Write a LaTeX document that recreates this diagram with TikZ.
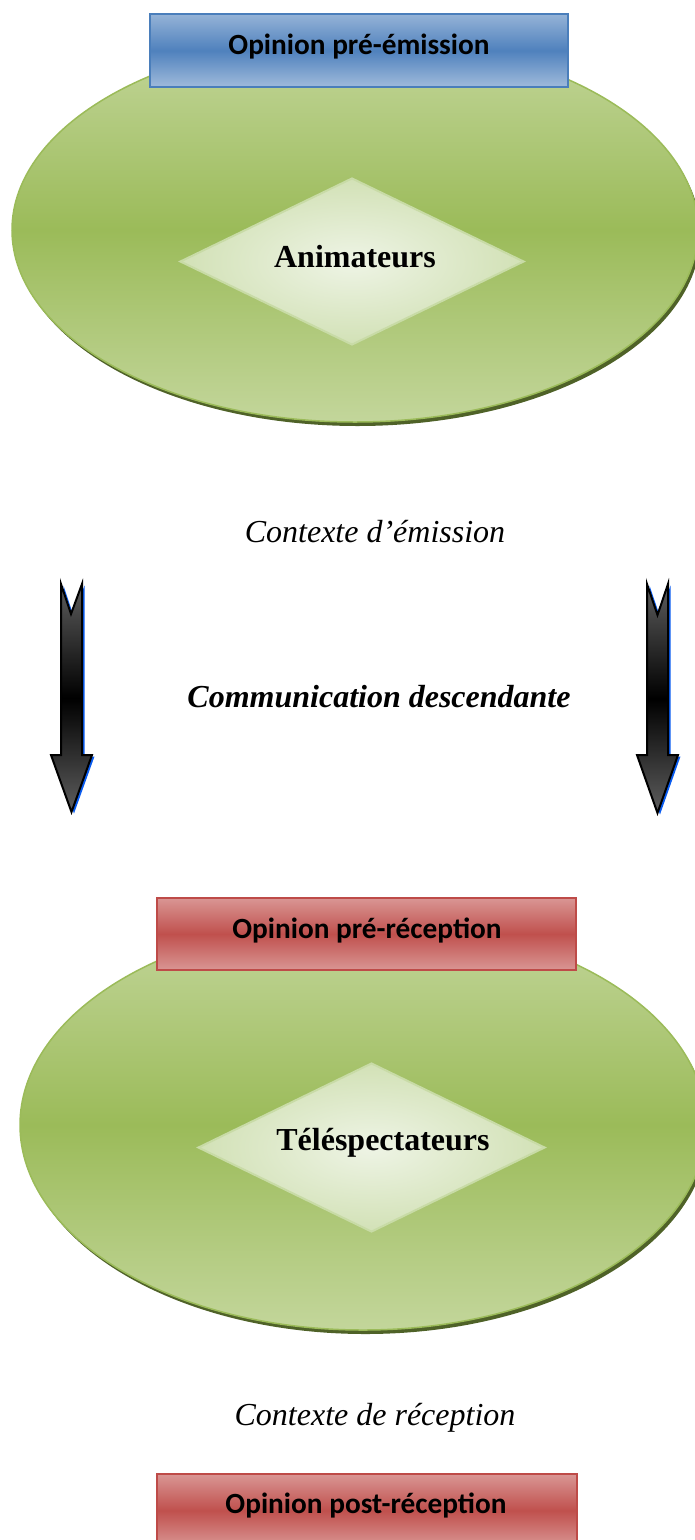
\documentclass[tikz,border=0pt]{standalone}
\usepackage{fontspec}
\setmainfont{Liberation Serif}
\newfontfamily\boxfont{Carlito}
\usetikzlibrary{shapes.geometric,shadows}
\definecolor{greenlight}{HTML}{C3D69B}
\definecolor{greenmid}{HTML}{9BBB59}
\definecolor{greenline}{HTML}{9BBB59}
\definecolor{greenshadow}{HTML}{4F6228}
\definecolor{gemin}{HTML}{EEF4E5}
\definecolor{gemout}{HTML}{D2E1B6}
\definecolor{gemline}{HTML}{C8DBA6}
\definecolor{bluelight}{HTML}{95B3D7}
\definecolor{bluemid}{HTML}{4F81BD}
\definecolor{blueline}{HTML}{4A7EBB}
\definecolor{redlight}{HTML}{D99694}
\definecolor{redmid}{HTML}{C0504D}
\definecolor{redline}{HTML}{BE4B48}
\definecolor{arrowgray}{HTML}{5E5E5E}
\definecolor{shadowblue}{HTML}{0A5CF0}
\begin{document}
\begin{tikzpicture}[x=1pt,y=-1pt,
  oval/.style={ellipse, inner sep=0pt, draw=greenline, line width=1.5pt,
    top color=greenlight, bottom color=greenlight, middle color=greenmid,
    drop shadow={shadow xshift=2.5pt, shadow yshift=-4pt, fill=greenshadow, opacity=1}},
  gem/.style={diamond, inner sep=0pt, draw=gemline, line width=2pt,
    inner color=gemin, outer color=gemout},
  bluebox/.style={rectangle, inner sep=0pt, draw=blueline, line width=1.5pt,
    top color=bluelight, bottom color=bluelight!90!white, middle color=bluemid},
  redbox/.style={rectangle, inner sep=0pt, draw=redline, line width=1.5pt,
    top color=redlight, bottom color=redlight, middle color=redmid},
  boxtext/.style={inner sep=0pt, font=\boxfont\bfseries\fontsize{29.3}{34}\selectfont},
  serifbig/.style={inner sep=0pt, font=\fontsize{32}{38}\selectfont},
  arrowshape/.style={draw=black, line width=2pt, line join=miter,
    top color=arrowgray, bottom color=arrowgray, middle color=black},
  arrowshadow/.style={fill=shadowblue, draw=none}
]
\useasboundingbox (0,0) rectangle (695,1540);

% ---- top group ----
\node[oval, minimum width=686pt, minimum height=384pt] (e1) at (355,230) {};
\node[gem, minimum width=344pt, minimum height=167pt] (d1) at (352,261.5) {};
\node[serifbig, anchor=base, font=\bfseries\fontsize{32}{38}\selectfont] (a1) at (355,267) {Animateurs};
\node[bluebox, minimum width=418pt, minimum height=73pt] (b1) at (359,50.5) {};
\node[boxtext, anchor=base] (t1) at (359,54) {Opinion pré-émission};

\node[serifbig, anchor=base, font=\itshape\fontsize{32}{38}\selectfont] (c1) at (375,542) {Contexte d’émission};

% ---- arrows ----
\fill[arrowshadow] (63.5,585.5) -- (73.5,615.5) -- (84.5,585.5) -- (84.5,756.5) -- (94.5,756.5) -- (74,813.5) -- (53.5,756.5) -- (63.5,756.5) -- cycle;
\draw[arrowshape] (61,584) -- (71,614) -- (82,584) -- (82,755) -- (92,755) -- (71.5,812) -- (51,755) -- (61,755) -- cycle;
\fill[arrowshadow] (649.5,585.5) -- (660,616.5) -- (670.5,585.5) -- (670.5,756.5) -- (680.5,756.5) -- (660,814.5) -- (639.5,756.5) -- (649.5,756.5) -- cycle;
\draw[arrowshape] (647,584) -- (657.5,615) -- (668,584) -- (668,755) -- (678,755) -- (657.5,813) -- (637,755) -- (647,755) -- cycle;

\node[serifbig, anchor=base, font=\bfseries\itshape\fontsize{32}{38}\selectfont] (c2) at (379,707) {Communication descendante};

% ---- middle group ----
\node[oval, minimum width=686pt, minimum height=410pt] (e2) at (363,1125) {};
\node[gem, minimum width=347pt, minimum height=169pt] (d2) at (371.5,1147.5) {};
\node[serifbig, anchor=base, font=\bfseries\fontsize{32}{38}\selectfont] (a2) at (383,1150) {Téléspectateurs};
\node[redbox, minimum width=419pt, minimum height=72pt] (b2) at (366.5,934) {};
\node[boxtext, anchor=base] (t2) at (367,938) {Opinion pré-réception};

\node[serifbig, anchor=base, font=\itshape\fontsize{32}{38}\selectfont] (c3) at (375,1425) {Contexte de réception};

% ---- bottom box ----
\node[redbox, minimum width=420pt, minimum height=73pt] (b3) at (367,1510.5) {};
\node[boxtext, anchor=base] (t3) at (366,1513) {Opinion post-réception};
\end{tikzpicture}
\end{document}
